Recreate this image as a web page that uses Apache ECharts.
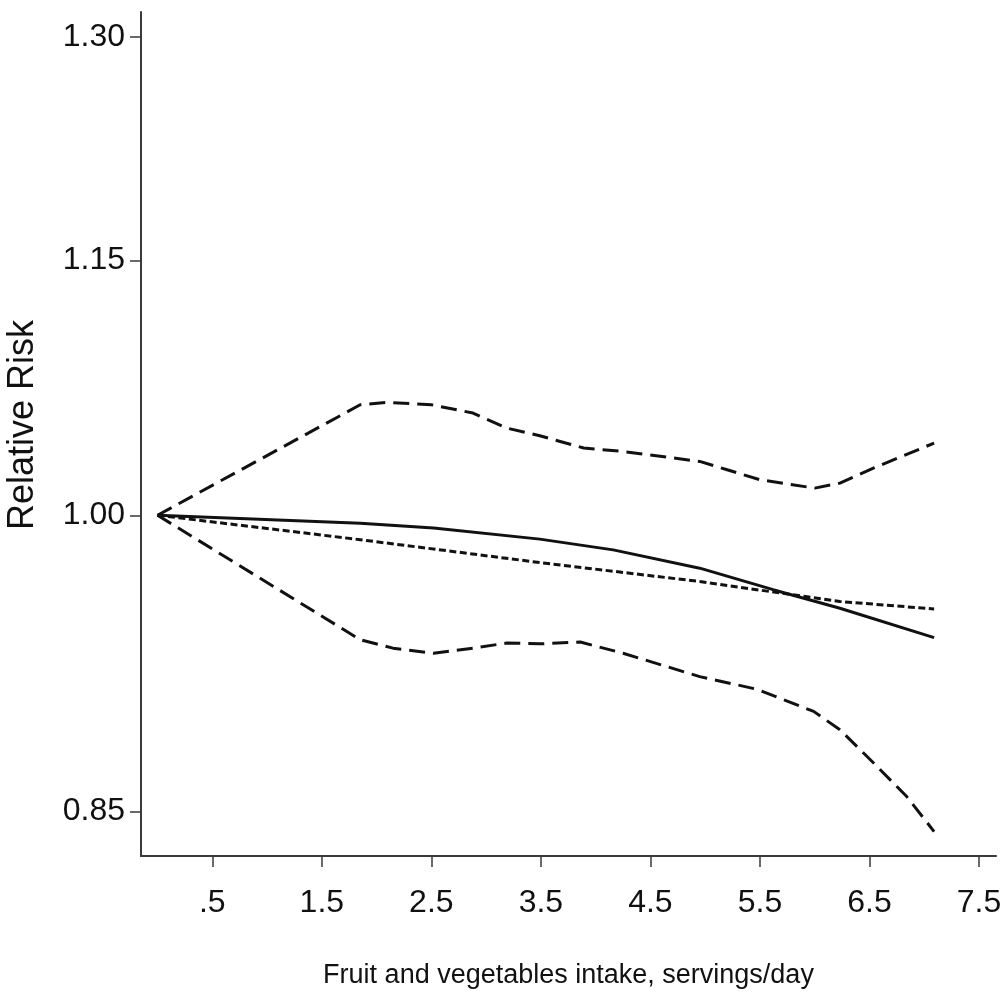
<!DOCTYPE html>
<html>
<head>
<meta charset="utf-8">
<script src="https://cdn.jsdelivr.net/npm/echarts@6/dist/echarts.min.js"></script>
<style>
  html, body { margin: 0; padding: 0; background: #fff; }
  #chart { width: 1000px; height: 1004px; }
</style>
</head>
<body>
<div id="chart"></div>
<script>
// Dose-response of fruit and vegetable intake vs relative risk (log scale)

// Upper 95% confidence limit
const upperX  = [0, 1.85, 2.1, 2.5, 2.88, 3.19, 3.49, 3.89, 4.25, 4.95, 5.2, 5.5, 6.0, 6.23, 6.54, 7.09];
const upperRR = [1.000, 1.0625, 1.0639, 1.0625, 1.0577, 1.049, 1.0446, 1.0376, 1.0356, 1.030, 1.0253, 1.0197, 1.015, 1.0178, 1.0263, 1.0404];

// Lower 95% confidence limit
const lowerX  = [0, 1.85, 2.15, 2.52, 2.88, 3.19, 3.49, 3.86, 4.25, 4.95, 5.47, 5.99, 6.23, 6.54, 6.84, 7.09];
const lowerRR = [1.000, 0.934, 0.9297, 0.9271, 0.9297, 0.9323, 0.9319, 0.9328, 0.9271, 0.9153, 0.909, 0.898, 0.889, 0.8728, 0.857, 0.8407];

// Non-linear (spline) estimate
const splineX  = [0, 1.85, 2.52, 3.49, 4.16, 4.95, 5.62, 6.23, 7.09];
const splineRR = [1.000, 0.9957, 0.993, 0.987, 0.9812, 0.9714, 0.960, 0.9503, 0.9351];

// Linear trend estimate
const linearX  = [0, 1.85, 3.49, 4.95, 6.23, 7.09];
const linearRR = [1.000, 0.9867, 0.9744, 0.9643, 0.9538, 0.9499];

// Axis ticks
const xTicks = [0.5, 1.5, 2.5, 3.5, 4.5, 5.5, 6.5, 7.5];
const xTickLabels = ['.5', '1.5', '2.5', '3.5', '4.5', '5.5', '6.5', '7.5'];
const yTicks = [0.85, 1.00, 1.15, 1.30];

// Axis ranges (relative risk shown on a natural-log scale)
const xRange = [-0.151, 7.655];
const yRange = [0.8295, 1.318];

const toPairs = (xs, ys) => xs.map((x, i) => [x, Math.log(ys[i])]);

const sans = '"Liberation Sans", Arial, sans-serif';
const axisColor = '#3a3a3a';
const ink = '#111';

const chart = echarts.init(document.getElementById('chart'), null, { renderer: 'canvas' });

chart.setOption({
  backgroundColor: '#fff',
  animation: false,
  grid: { left: 141, right: 4, top: 12, bottom: 148, outerBoundsMode: 'none' },
  xAxis: {
    type: 'value',
    min: xRange[0],
    max: xRange[1],
    name: 'Fruit and vegetables intake, servings/day',
    nameLocation: 'middle',
    nameGap: 106,
    nameTextStyle: { fontFamily: sans, fontSize: 27, color: ink },
    axisLine: { show: true, onZero: false, lineStyle: { color: axisColor, width: 2 } },
    axisTick: { show: true, inside: false, length: 11, customValues: xTicks,
                lineStyle: { color: axisColor, width: 1.5 } },
    axisLabel: {
      customValues: xTicks,
      margin: 31,
      fontFamily: sans, fontSize: 32, color: ink,
      formatter: v => xTickLabels[xTicks.indexOf(Math.round(v * 10) / 10)] ?? ''
    },
    splitLine: { show: false }
  },
  yAxis: {
    type: 'value',
    min: Math.log(yRange[0]),
    max: Math.log(yRange[1]),
    name: 'Relative Risk',
    nameLocation: 'middle',
    nameRotate: 90,
    nameGap: 100,
    nameMoveOverlap: false,
    nameTextStyle: { fontFamily: sans, fontSize: 36, color: ink, padding: [0, 0, 0, 18] },
    axisLine: { show: true, onZero: false, lineStyle: { color: axisColor, width: 2 } },
    axisTick: { show: true, inside: false, length: 11, customValues: yTicks.map(Math.log),
                lineStyle: { color: axisColor, width: 1.5 } },
    axisLabel: {
      customValues: yTicks.map(Math.log),
      margin: 16,
      fontFamily: sans, fontSize: 32, color: ink,
      formatter: v => Math.exp(v).toFixed(2)
    },
    splitLine: { show: false }
  },
  series: [
    {
      name: 'Upper limit', type: 'line', data: toPairs(upperX, upperRR),
      symbol: 'none', smooth: false,
      lineStyle: { color: ink, width: 3, type: [16, 8] }
    },
    {
      name: 'Lower limit', type: 'line', data: toPairs(lowerX, lowerRR),
      symbol: 'none', smooth: false,
      lineStyle: { color: ink, width: 3, type: [16, 8] }
    },
    {
      name: 'Spline', type: 'line', data: toPairs(splineX, splineRR),
      symbol: 'none', smooth: false,
      lineStyle: { color: ink, width: 3, type: 'solid' }
    },
    {
      name: 'Linear', type: 'line', data: toPairs(linearX, linearRR),
      symbol: 'none', smooth: false,
      lineStyle: { color: ink, width: 3, type: [7, 3.5] }
    }
  ]
});
</script>
</body>
</html>
